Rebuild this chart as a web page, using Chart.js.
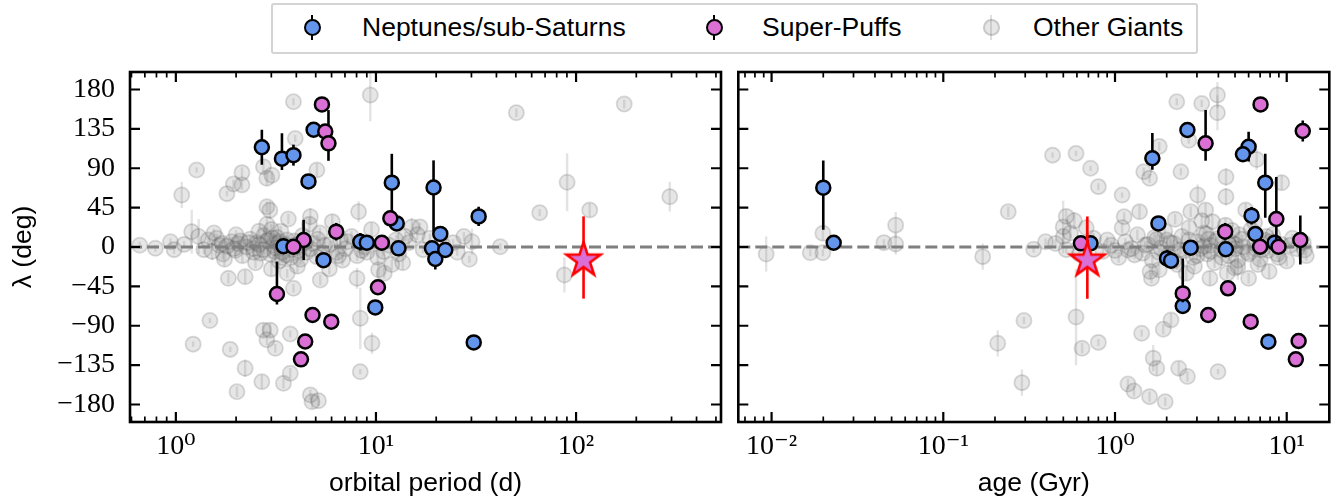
<!DOCTYPE html>
<html>
<head>
<meta charset="utf-8">
<script src="https://cdn.jsdelivr.net/npm/chart.js@4.4.0/dist/chart.umd.min.js"></script>
<style>
html,body{margin:0;padding:0;background:#fff;}
body{width:1335px;height:502px;overflow:hidden;position:relative;}
#cl{position:absolute;left:0;top:0;}
#cr{position:absolute;left:730px;top:0;}
.lbox{position:absolute;left:271px;top:3px;width:923px;height:47px;border:2px solid #d4d4d4;border-radius:3px;background:#fff;}
.ltext{position:absolute;top:14px;font-family:'Liberation Sans',Arial,sans-serif;font-size:26.5px;line-height:26px;color:#000;white-space:nowrap;}
.lbar{position:absolute;top:15px;width:2.5px;height:25px;}
.ldot{position:absolute;top:19px;width:17px;height:17px;box-sizing:border-box;border-radius:50%;}
</style>
</head>
<body>
<canvas id="cl" width="730" height="502"></canvas>
<canvas id="cr" width="605" height="502"></canvas>
<div class="lbox"></div>
<div class="lbar" style="left:310.8px;background:#000"></div>
<div class="ldot" style="left:303.5px;background:#6495ED;border:2.5px solid #000"></div>
<div class="ltext" style="left:362px">Neptunes/sub-Saturns</div>
<div class="lbar" style="left:712.8px;background:#000"></div>
<div class="ldot" style="left:705.5px;background:#DA70D6;border:2.5px solid #000"></div>
<div class="ltext" style="left:762px">Super-Puffs</div>
<div class="lbar" style="left:989.8px;background:rgba(128,128,128,0.25)"></div>
<div class="ldot" style="left:982.5px;background:rgba(128,128,128,0.2);border:2px solid rgba(60,60,60,0.18)"></div>
<div class="ltext" style="left:1033px">Other Giants</div>
<script>
// ---------------- DATA ----------------
// Left panel: orbital period (d) vs lambda (deg)
const nepPeriod   = [2.69, 3.39, 3.87, 4.60, 4.88, 5.47, 3.45, 8.35, 9.0, 12.0, 12.7, 12.96, 19.4, 20.97, 19.05, 19.8, 22.2, 32.6, 30.8, 9.92];
const nepLamP     = [114, 101, 105, 75, 134, -15, 1, 6, 5, 73.5, 27, -1.5, 68, 15, -1.5, -13.7, -3.4, 35, -109, -69];
const nepErrHiP   = [20, 29, 12, 4, 4, 4, 8, 10, 4, 33, 8, 4, 31, 4, 4, 12, 4, 11, 3, 8];
const nepErrLoP   = [20, 13, 12, 4, 4, 4, 8, 10, 4, 40, 8, 4, 50, 4, 4, 12, 4, 11, 3, 8];

const spPeriod    = [5.37, 5.58, 5.79, 6.33, 4.35, 3.87, 10.7, 11.8, 3.2, 4.82, 5.98, 4.43, 4.22, 10.23];
const spLamP      = [163, 132, 118.5, 17.5, 8, 0.3, 4.9, 32.8, -53.7, -77.7, -85.3, -108, -128.4, -46];
const spErrHiP    = [3, 5, 38, 10, 23, 4, 4, 8, 37, 4, 4, 4, 4, 4];
const spErrLoP    = [3, 5, 20, 10, 23, 4, 4, 8, 12, 4, 4, 4, 4, 4];

const otherPeriod = [9.37, 3.87, 3.95, 5.07, 1.27, 2.14, 2.74, 2.85, 2.14, 1.8, 1.07, 8.19, 2.85, 1.2, 4.7, 15.1, 3.02, 1.94,
  50.3, 174, 90.2, 117, 65.8, 294, 87.4, 41.8, 30.2, 29.3, 24.3, 16.6,
  1.83, 2.22, 3.87, 5.27, 8.04, 10.3, 1.48, 1.22, 1.87, 2.74, 2.96, 3.73, 2.85, 3.14, 2.22, 2.69, 3.45, 3.73, 2.02, 4.7, 4.79, 5.16, 8.35, 9.55, 8.35,
  0.66, 0.79, 0.94, 1.3, 1.38, 1.45, 1.52, 1.6, 1.65, 1.72, 1.8, 1.9, 1.98, 2.05, 2.15, 2.25, 2.35, 2.45, 2.55, 2.65, 2.75, 2.85, 2.95, 3.0, 3.08, 3.12,
  3.2, 3.28, 3.35, 3.5, 3.55, 3.65, 3.8, 3.92, 4.05, 4.15, 4.3, 4.5, 4.65, 4.85, 5.05, 5.25, 5.55, 5.85, 6.05, 6.35, 6.65, 7.05, 7.55, 8.05, 8.8, 9.5,
  10.2, 10.9, 11.6, 12.6, 13.6, 14.6, 16.1, 17.2, 18.6, 21.5, 25.5, 27.5, 2.5, 3.0, 3.4, 2.0, 1.75, 2.9, 3.6, 4.2, 3.3, 2.6, 1.55, 0.98, 1.1, 11, 13, 6.8,
  2.3, 2.45, 2.6, 2.75, 2.85, 2.95, 3.05, 3.15, 3.25, 3.4, 3.6, 3.75, 3.9, 4.1, 4.4, 4.7, 5.1, 5.4, 5.9, 6.5, 7.2, 8.5, 1.95, 2.1, 1.7, 12, 14, 9];
const otherLamP   = [173.7, 166, 124, 88, 88, 85, 91.8, 78.5, 71, 61, 59.4, 40.3, 46, 17.5, 34.6, 23, 82, 72,
  153.5, 163.4, 74, 42.3, 39.2, 57.5, -32, 0.3, 6, -14, 5, 23,
  -35.8, -34, -47.2, -37.7, -35.8, -26, -84, -111, -117, -95, -95, -99.4, -106, -115.8, -138.6, -154, -155.8, -144.3, -165.4, -169, -176.8, -175.6, -81.5, -110, -142.5,
  2, -1.5, 6, 12, -3, 8, -5, 10, 2, -8, 1, 6, -4, 4, -10, 0, 9, -2, 5, -7, 13, 26, 42, 20, 2, -5,
  11, -16, 18, 3, -9, 32, -3, 7, -22, 1, 13, -6, 26, 4, -11, 16, 2, -25, 29, -6, 8, -2, 12, -10, 0, 20,
  -12, -5, 2, 8, -18, 5, 14, -3, 10, 3, -6, 12, -18, -25, -12, 14, -14, 8, -30, -14, 6, 18, 16, -3, 3, -30, -8, -15,
  5, -6, 3, -3, 7, -8, 10, -1, 4, -6, 8, -12, 2, -4, 5, -2, 9, -7, 3, -10, 6, -4, -2, 7, 4, -20, 12, -6];
const otherErrP   = [30, 4, 4, 8, 3, 6, 8, 8, 6, 3, 15, 12, 6, 25, 10, 10, 5, 5,
  5, 5, 33, 8, 4, 17, 20, 4, 15, 4, 4, 5,
  6, 8, 5, 6, 12, 8, 3, 3, 3, 8, 8, 4, 6, 5, 10, 8, 6, 6, 6, 6, 8, 6, 35, 12, 3,
  4, 4, 4, 20, 5, 6, 10, 5, 5, 6, 4, 5, 6, 4, 8, 5, 5, 4, 6, 5, 6, 8, 10, 6, 4, 6,
  5, 8, 6, 4, 5, 6, 4, 5, 8, 4, 6, 5, 8, 4, 6, 6, 4, 6, 8, 5, 6, 4, 6, 6, 4, 8,
  8, 6, 4, 6, 8, 5, 6, 4, 5, 4, 4, 5, 6, 8, 5, 5, 8, 4, 5, 6, 4, 5, 5, 5, 4, 6, 5, 6,
  4, 5, 4, 5, 4, 5, 4, 4, 5, 4, 5, 6, 4, 5, 4, 4, 5, 5, 4, 5, 4, 4, 4, 5, 4, 6, 5, 4];

const targetPeriod = [109];
const targetLam    = [-15];
const targetErrHi  = [50];
const targetErrLo  = [44];

// Right panel: age (Gyr) vs lambda (deg)
const nepAge      = [0.0200, 0.0230, 1.65, 2.64, 6.0, 5.56, 7.5, 1.79, 6.24, 6.57, 2.76, 4.42, 2.01, 2.12, 0.72, 8.5, 2.48, 7.82];
const nepLamA     = [67.8, 4.9, 101.4, 133.7, 114.6, 106, 73.5, 27, 35.8, 14.9, -0.8, -2.6, -13, -15.6, 4.2, 5, -67.4, -108.2];
const nepErrHiA   = [31, 8, 29, 4, 17, 4, 33, 4, 10, 4, 4, 4, 10, 4, 4, 4, 8, 3];
const nepErrLoA   = [48, 8, 13, 4, 17, 4, 40, 4, 10, 4, 4, 4, 10, 4, 4, 4, 8, 3];

const spAge       = [7.04, 3.37, 12.4, 8.7, 4.38, 7.0, 8.96, 12.0, 0.633, 2.48, 4.55, 3.49, 6.17, 11.73, 11.3];
const spLamA      = [163, 118.5, 132.6, 32, 17.5, 0.3, 0.3, 8, 4.2, -53, -47.2, -77.7, -85.3, -107.4, -128.4];
const spErrHiA    = [3, 38, 12, 48, 10, 4, 4, 28, 4, 40, 4, 4, 4, 4, 4];
const spErrLoA    = [3, 20, 12, 30, 10, 4, 4, 28, 4, 10, 4, 4, 4, 4, 4];

const otherAge    = [2.29, 3.2, 3.95, 3.95, 2.69, 1.81, 0.433, 0.593, 0.721, 0.80, 1.10, 1.47, 1.59, 2.42, 4.43, 4.43, 3.03, 9.35, 6.68, 5.77, 3.37, 2.76, 1.39, 1.13, 2.24, 3.69,
  0.239, 0.0528, 0.0199, 0.0451, 0.0528, 0.0168, 0.0199, 0.0093, 0.1696, 0.336, 0.499, 0.394,
  0.295, 0.2075, 0.287, 0.593, 0.643, 0.80, 1.43, 1.91, 2.12, 1.67, 1.75, 2.35, 2.64, 3.98, 1.19, 1.29, 1.59, 1.96, 1.63, 3.57, 6.0, 7.9, 1.81, 5.19, 12.7, 1.19,
  0.45, 0.5, 0.52, 0.55, 0.62, 0.75, 0.85, 0.95, 1.05, 1.15, 1.25, 1.35, 1.45, 1.55, 1.65, 1.75, 1.85, 1.95, 2.05, 2.2, 2.3, 2.45, 2.55, 2.7, 2.85, 3.0,
  3.15, 3.3, 3.45, 3.6, 3.8, 4.0, 4.2, 4.4, 4.6, 4.8, 5.0, 5.3, 5.6, 5.9, 6.2, 6.6, 7.0, 7.4, 7.8, 8.3, 8.8, 9.3, 10, 10.8, 11.5, 12.5, 13.0,
  1.1, 1.6, 2.6, 3.2, 4.5, 6.5, 2.0, 3.5, 5.0, 0.68, 0.58, 0.52,
  1.5, 1.8, 2.1, 2.4, 2.7, 3.0, 3.3, 3.6, 3.9, 4.2, 4.6, 5.0, 5.5, 6.0, 6.5, 7.2, 8.0, 9.0, 10.5, 2.2, 3.4, 5.2, 7.6, 1.3, 1.7, 2.9, 4.8, 6.8, 0.9, 1.0];
const otherLamA   = [166, 164, 173.7, 153.5, 122, 115, 105, 107, 90, 69, 59.4, 86, 78.5, 86, 80, 57.5, 59.4, 73.5, 100, 42.3, 42.3, 40.3, 40.3, 34.6, 31.6, 29,
  40.3, 25, 15.6, 5, 3.4, -6.5, -6.5, -8, -11, -2.6, 23, 6,
  -84, -110, -155, -80, -115.8, -109, -98.6, -94, -83.4, -127, -138.6, -138.6, -148, -142.5, -156.6, -164.6, -171, -176.8, -35.8, -35.8, -35.8, -28, -26, -22.5, -3.4, -3.4,
  4, 12, -3, 16, -8, 10, -5, 2, -12, 6, -2, 14, -7, 3, -15, 9, -1, 18, -9, 4, -20, 12, -4, 22, -12, 6,
  -2, 16, -8, 2, -18, 10, -3, 25, -10, 5, -24, 14, 0, -6, 20, -2, -14, 8, -4, 14, -8, 3, -16, 10, -2, 5, -10,
  22, -28, -30, 30, -30, 28, 8, 9, 3, 22, 30, 35,
  2, -6, 5, -3, 8, -10, 1, -5, 7, -12, 3, -2, 9, -8, 4, -3, 6, -12, 2, -16, 15, -15, 12, -9, 11, -22, 19, -20, 8, -4];
const otherErrA   = [4, 4, 15, 20, 4, 5, 3, 3, 3, 4, 3, 5, 5, 4, 10, 10, 12, 8, 12, 8, 8, 6, 8, 5, 6, 8,
  6, 15, 8, 4, 12, 4, 4, 20, 15, 4, 30, 4,
  4, 15, 15, 55, 6, 4, 4, 6, 8, 15, 8, 8, 6, 3, 6, 6, 6, 5, 6, 8, 6, 8, 6, 15, 6, 4,
  5, 8, 4, 6, 5, 6, 4, 5, 6, 4, 5, 6, 5, 4, 6, 5, 4, 6, 5, 4, 6, 5, 4, 8, 5, 4,
  5, 6, 5, 4, 6, 5, 4, 8, 5, 4, 8, 6, 4, 5, 6, 4, 6, 5, 4, 6, 5, 4, 6, 5, 4, 5, 6,
  6, 8, 8, 8, 6, 8, 4, 4, 4, 10, 10, 8,
  4, 5, 4, 5, 4, 5, 4, 4, 5, 6, 4, 4, 5, 5, 4, 4, 5, 5, 4, 6, 5, 6, 5, 5, 5, 6, 6, 6, 4, 4];

const targetAge = [0.69];

// axes
const periodRange = [0.59, 530];
const ageRange    = [0.0064, 17.7];
const lamRange    = [-200, 200];
const lamTicks    = [-180, -135, -90, -45, 0, 45, 90, 135, 180];
const lamTickLabels = ['\u2212180', '\u2212135', '\u221290', '\u221245', '0', '45', '90', '135', '180'];
const periodTicks = [1, 10, 100];
const periodTickLabels = ['10\u2070', '10\u00B9', '10\u00B2'];
const ageTicks    = [0.01, 0.1, 1, 10];
const ageTickLabels = ['10\u207B\u00B2', '10\u207B\u00B9', '10\u2070', '10\u00B9'];

// ---------------- STYLE / HELPERS ----------------
const BLUE = '#6495ED', PINK = '#DA70D6';
const SANS = "'Liberation Sans', Arial, sans-serif";
const SERIF = "'Liberation Serif', 'DejaVu Serif', serif";

function pts(xs, ys) { return xs.map((x, i) => ({x: x, y: ys[i]})); }

function makeStar(R, fill, stroke, lw) {
  const s = Math.ceil(2 * R + 2 * lw + 4);
  const c = document.createElement('canvas');
  c.width = s; c.height = s;
  const g = c.getContext('2d');
  g.translate(s / 2, s / 2);
  g.beginPath();
  const r = R * 0.381966;
  for (let k = 0; k < 10; k++) {
    const a = -Math.PI / 2 + k * Math.PI / 5;
    const rr = (k % 2 === 0) ? R : r;
    const px = rr * Math.cos(a), py = rr * Math.sin(a);
    if (k === 0) g.moveTo(px, py); else g.lineTo(px, py);
  }
  g.closePath();
  g.fillStyle = fill; g.fill();
  g.lineWidth = lw; g.lineJoin = 'miter'; g.strokeStyle = stroke; g.stroke();
  return c;
}
const starImg = makeStar(18, PINK, '#FF0000', 2.5);

const errorBarPlugin = {
  id: 'errbars',
  beforeDatasetDraw(chart, args) {
    const ds = chart.data.datasets[args.index];
    if (!ds.errHi) return;
    const ctx = chart.ctx, xs = chart.scales.x, ys = chart.scales.y, a = chart.chartArea;
    ctx.save();
    ctx.beginPath(); ctx.rect(a.left, a.top, a.right - a.left, a.bottom - a.top); ctx.clip();
    ctx.strokeStyle = ds.errColor; ctx.lineWidth = ds.errWidth; ctx.lineCap = 'butt';
    ds.data.forEach((p, i) => {
      const hi = ds.errHi[i], lo = ds.errLo[i];
      if (!hi && !lo) return;
      const x = xs.getPixelForValue(p.x);
      ctx.beginPath();
      ctx.moveTo(x, ys.getPixelForValue(p.y + hi));
      ctx.lineTo(x, ys.getPixelForValue(p.y - lo));
      ctx.stroke();
    });
    ctx.restore();
  }
};

const framePlugin = {
  id: 'frame',
  afterDraw(chart) {
    const ctx = chart.ctx, a = chart.chartArea, xs = chart.scales.x, ys = chart.scales.y;
    ctx.save();
    ctx.strokeStyle = '#000';
    const lo = Math.floor(Math.log10(xs.min)), hi = Math.ceil(Math.log10(xs.max));
    for (let e = lo; e <= hi; e++) {
      for (let k = 1; k <= 9; k++) {
        const v = k * Math.pow(10, e);
        if (v < xs.min || v > xs.max) continue;
        const x = xs.getPixelForValue(v);
        const L = (k === 1) ? 10 : 5.5;
        ctx.lineWidth = (k === 1) ? 2.2 : 1.7;
        ctx.beginPath();
        ctx.moveTo(x, a.bottom); ctx.lineTo(x, a.bottom - L);
        ctx.moveTo(x, a.top); ctx.lineTo(x, a.top + L);
        ctx.stroke();
      }
    }
    ctx.lineWidth = 2.2;
    lamTicks.forEach(v => {
      const y = ys.getPixelForValue(v);
      ctx.beginPath();
      ctx.moveTo(a.left, y); ctx.lineTo(a.left + 10, y);
      ctx.moveTo(a.right, y); ctx.lineTo(a.right - 10, y);
      ctx.stroke();
    });
    ctx.lineWidth = 2.6;
    ctx.strokeRect(a.left, a.top, a.right - a.left, a.bottom - a.top);
    ctx.restore();
  }
};

function buildChart(canvasId, xsNep, ysNep, hiNep, loNep, xsSp, ysSp, hiSp, loSp,
                    xsOth, ysOth, errOth, xsTgt, range, tickVals, tickLabels, xTitle, showY, pad) {
  const datasets = [
    { label: 'target', data: pts(xsTgt, targetLam), pointStyle: starImg, pointRadius: 18, pointHoverRadius: 18,
      errHi: targetErrHi, errLo: targetErrLo, errColor: '#FF0000', errWidth: 2.6, order: 0 },
    { label: 'Super-Puffs', data: pts(xsSp, ysSp), pointRadius: 7, pointHoverRadius: 7, pointBorderWidth: 2.5,
      pointBackgroundColor: PINK, pointBorderColor: '#000', errHi: hiSp, errLo: loSp, errColor: '#000', errWidth: 2.6, order: 1 },
    { label: 'Neptunes/sub-Saturns', data: pts(xsNep, ysNep), pointRadius: 7, pointHoverRadius: 7, pointBorderWidth: 2.5,
      pointBackgroundColor: BLUE, pointBorderColor: '#000', errHi: hiNep, errLo: loNep, errColor: '#000', errWidth: 2.6, order: 2 },
    { label: 'zero', data: [{x: range[0], y: 0}, {x: range[1], y: 0}], showLine: true, pointRadius: 0,
      borderColor: '#7f7f7f', borderWidth: 3.2, borderDash: [12, 5], order: 3 },
    { label: 'Other Giants', data: pts(xsOth, ysOth), pointRadius: 7.6, pointHoverRadius: 7.6, pointBorderWidth: 1.8,
      pointBackgroundColor: 'rgba(128,128,128,0.2)', pointBorderColor: 'rgba(60,60,60,0.18)',
      errHi: errOth, errLo: errOth, errColor: 'rgba(128,128,128,0.22)', errWidth: 2.4, order: 4 }
  ];
  return new Chart(document.getElementById(canvasId), {
    type: 'scatter',
    data: { datasets },
    plugins: [errorBarPlugin, framePlugin],
    options: {
      responsive: false, animation: false, devicePixelRatio: 1,
      layout: { padding: pad, autoPadding: false },
      plugins: { legend: { display: false }, tooltip: { enabled: false } },
      scales: {
        x: {
          type: 'logarithmic', position: 'bottom', min: range[0], max: range[1],
          grid: { display: false, drawTicks: false }, border: { display: false },
          afterBuildTicks: s => { s.ticks = tickVals.map(v => ({ value: v })); },
          afterFit: s => { s.height = 80; s.paddingLeft = 0; s.paddingRight = 0; },
          ticks: { autoSkip: false, maxRotation: 0, color: '#000', padding: 8,
                   font: { family: SERIF, size: 28 },
                   callback: (v) => { const i = tickVals.indexOf(v); return i >= 0 ? tickLabels[i] : ''; } },
          title: { display: true, text: xTitle, color: '#000', font: { family: SANS, size: 26.5 },
                   padding: { top: 0, bottom: 2 } }
        },
        y: {
          type: 'linear', display: showY, min: lamRange[0], max: lamRange[1],
          grid: { display: false, drawTicks: false }, border: { display: false },
          afterBuildTicks: s => { s.ticks = lamTicks.map(v => ({ value: v })); },
          afterFit: s => { s.width = showY ? 130 : 0; s.paddingTop = 0; s.paddingBottom = 0; },
          ticks: { autoSkip: false, color: '#000', padding: 15, font: { family: SERIF, size: 28 },
                   callback: (v) => { const i = lamTicks.indexOf(v); return i >= 0 ? lamTickLabels[i] : ''; } },
          title: { display: showY, text: '\u03BB (deg)', color: '#000', font: { family: SANS, size: 26.5 },
                   padding: { top: 8, bottom: 0 } }
        }
      }
    }
  });
}

buildChart('cl', nepPeriod, nepLamP, nepErrHiP, nepErrLoP, spPeriod, spLamP, spErrHiP, spErrLoP,
           otherPeriod, otherLamP, otherErrP, targetPeriod, periodRange, periodTicks, periodTickLabels,
           'orbital period (d)', true, { left: 0, right: 9, top: 72, bottom: 0 });
buildChart('cr', nepAge, nepLamA, nepErrHiA, nepErrLoA, spAge, spLamA, spErrHiA, spErrLoA,
           otherAge, otherLamA, otherErrA, targetAge, ageRange, ageTicks, ageTickLabels,
           'age (Gyr)', false, { left: 8.3, right: 5.7, top: 72, bottom: 0 });
</script>
</body>
</html>
